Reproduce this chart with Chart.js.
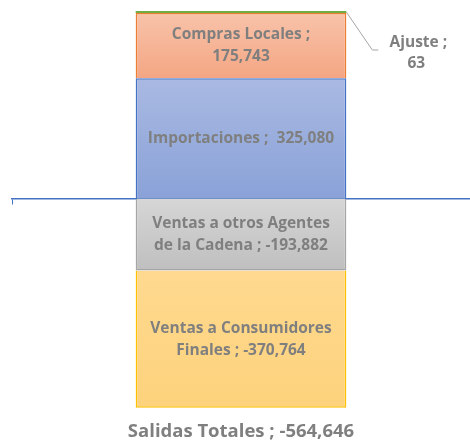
<!DOCTYPE html>
<html>
<head>
<meta charset="utf-8">
<script src="https://cdn.jsdelivr.net/npm/chart.js@4"></script>
<style>
  body { margin: 0; background: #fff; }
  #wrap { width: 470px; height: 440px; }
</style>
</head>
<body>
<div id="wrap"><canvas id="chart"></canvas></div>
<script>
// data
const categories = ['Salidas Totales ; -564,646'];
const seriesNames = ['Importaciones', 'Compras Locales', 'Ajuste', 'Ventas a otros Agentes de la Cadena', 'Ventas a Consumidores Finales'];
const seriesValues = [325080, 175743, 63, -193882, -370764];
const labelLines = [
    ['Importaciones ;  325,080'],
    ['Compras Locales ;', '175,743'],
    ['Ajuste ;', '63'],
    ['Ventas a otros Agentes', 'de la Cadena ; -193,882'],
    ['Ventas a Consumidores', 'Finales ; -370,764']
];

// colours (gradient top, gradient bottom, border)
const topColors = ['#a9b9e2', '#f8c3aa', '#70ad47', '#d6d6d6', '#fed98f'];
const bottomColors = ['#8aa2d8', '#f4a683', '#70ad47', '#bfbfbf', '#fdd27c'];
const borderColors = ['#4472c4', '#ed7d31', '#70ad47', '#a5a5a5', '#ffc000'];

const labelColor = '#7f7f7f';
const fontFamily = '"Open Sans", Lato, sans-serif';

//Function to build the vertical gradient of one segment
function getGradient(context, i) {
    const chart = context.chart;
    if (!chart.chartArea) {
        return bottomColors[i];
    }
    let start = 0;
    for (let j = 0; j < i; j++) {
        if (Math.sign(seriesValues[j]) === Math.sign(seriesValues[i])) {
            start += seriesValues[j];
        }
    }
    const y = chart.scales.y;
    const p1 = y.getPixelForValue(start);
    const p2 = y.getPixelForValue(start + seriesValues[i]);
    const g = chart.ctx.createLinearGradient(0, Math.min(p1, p2), 0, Math.max(p1, p2) + 0.01);
    g.addColorStop(0, topColors[i]);
    g.addColorStop(1, bottomColors[i]);
    return g;
}

//Plugin to write the labels inside the bars and the Ajuste callout
const barLabels = {
    id: 'barLabels',
    afterDatasetsDraw(chart) {
        const ctx = chart.ctx;
        ctx.save();
        ctx.fillStyle = labelColor;
        ctx.font = 'bold 15.5px ' + fontFamily;
        ctx.textAlign = 'center';
        ctx.textBaseline = 'middle';
        chart.data.datasets.forEach((ds, i) => {
            const bar = chart.getDatasetMeta(i).data[0];
            const lines = labelLines[i];
            if (ds.label === 'Ajuste') {
                const right = bar.x + bar.width / 2;
                ctx.strokeStyle = '#a6a6a6';
                ctx.lineWidth = 1;
                ctx.beginPath();
                ctx.moveTo(right, bar.y + 1);
                ctx.lineTo(right + 26, bar.y + 39);
                ctx.lineTo(right + 32, bar.y + 39);
                ctx.stroke();
                ctx.fillText(lines[0], right + 72, bar.y + 32);
                ctx.fillText(lines[1], right + 70, bar.y + 53);
                return;
            }
            const mid = (bar.y + bar.base) / 2;
            lines.forEach((line, k) => {
                ctx.fillText(line, bar.x, mid + (k - (lines.length - 1) / 2) * 22);
            });
        });
        ctx.restore();
    }
};

function main() {
    const canvas = document.querySelector('#chart');
    new Chart(canvas.getContext('2d'), {
        type: 'bar',
        data: {
            labels: categories,
            datasets: seriesNames.map((name, i) => ({
                label: name,
                data: [seriesValues[i]],
                backgroundColor: context => getGradient(context, i),
                borderColor: borderColors[i],
                borderWidth: name === 'Ajuste' ? 0 : 1.5,
                minBarLength: name === 'Ajuste' ? 2 : 0,
                clip: false,
                categoryPercentage: 1,
                barPercentage: 0.46
            }))
        },
        options: {
            responsive: true,
            maintainAspectRatio: false,
            animation: false,
            layout: { padding: { left: 12, right: 0, top: 13, bottom: -16 } },
            plugins: {
                legend: { display: false },
                tooltip: { enabled: false }
            },
            scales: {
                x: {
                    stacked: true,
                    border: { display: false },
                    grid: { display: false, drawTicks: false },
                    ticks: {
                        color: labelColor,
                        padding: 13,
                        font: { family: fontFamily, size: 18.5, weight: 'bold' }
                    }
                },
                x2: {
                    type: 'category',
                    position: { y: 0 },
                    offset: true,
                    border: { display: true, color: '#4472c4', width: 1.5 },
                    grid: { offset: true, drawOnChartArea: false, color: '#4472c4', tickLength: 5 },
                    ticks: { display: false }
                },
                y: {
                    stacked: true,
                    display: false,
                    min: -564646,
                    max: 500886
                }
            }
        },
        plugins: [barLabels]
    });
}

main()
</script>
</body>
</html>
